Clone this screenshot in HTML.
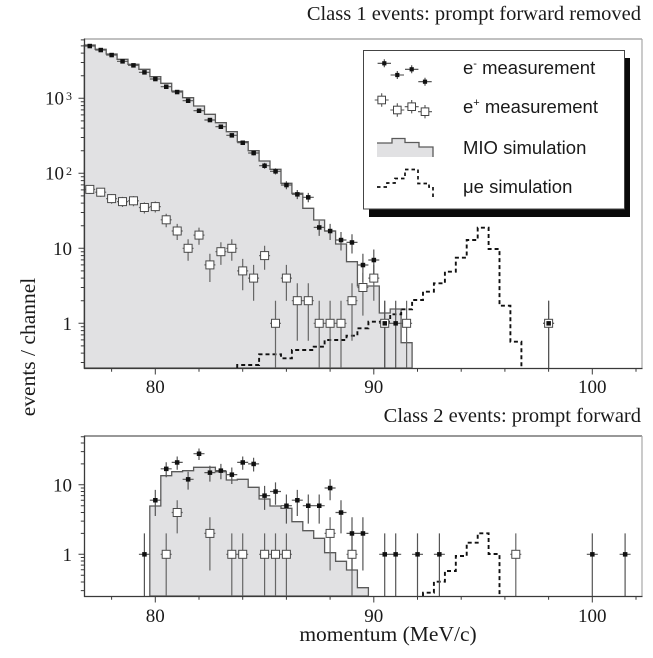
<!DOCTYPE html>
<html>
<head>
<meta charset="utf-8">
<style>
html,body{margin:0;padding:0;background:#fff;}
svg{display:block;}
.serif{font-family:"Liberation Serif","Times New Roman",serif;fill:#1a1a1a;}
.sans{font-family:"Liberation Sans",Arial,sans-serif;fill:#1a1a1a;}
</style>
</head>
<body>
<svg width="653" height="658" viewBox="0 0 653 658" xmlns="http://www.w3.org/2000/svg">
<rect x="0" y="0" width="653" height="658" fill="#fff"/>

<!-- ================= TOP PLOT ================= -->
<path d="M84.3,368 V45 H95.2 V49.3 H106.2 V54 H117.1 V59.3 H128 V64.3 H138.9 V69.3 H149.9 V76.7 H160.8 V83.3 H171.7 V91 H182.6 V97.7 H193.6 V106 H204.5 V114.3 H215.4 V122.7 H226.3 V131.7 H237.3 V141.7 H248.2 V150.7 H259.1 V161 H270 V169.3 H281 V183.3 H291.9 V193.3 H302.8 V208.3 H313.7 V220 H324.6 V231 H335.6 V244 H346.5 V261.7 H357.4 V286 H379.3 V313 H390.2 V309 H401.1 V342.7 H412.1 V368 Z" fill="#e1e1e3" stroke="#5a5a5a" stroke-width="1.3"/>
<path d="M237.2,368 V365 H259.1 V354.3 H281 V358.3 H291.9 V350 H313.7 V346.7 H324.6 V340 H346.5 V335.7 H357.4 V328.3 H368.4 V321.7 H390.2 V314.3 H401.2 V309.3 H412.1 V300 H423 V291.7 H433.9 V283.3 H444.9 V271.7 H455.8 V257.7 H466.7 V240 H477.7 V227.7 H488.6 V249 H499.5 V305.7 H510.4 V341.7 H521.4 V368" fill="none" stroke="#111" stroke-width="1.9" stroke-dasharray="4 3"/>

<path stroke="#666" stroke-width="1.2" fill="none" d="
M89.8,185.5V193.9M84.3,189.4H95.2
M100.7,188.1V196.9M95.2,192.2H106.2
M111.6,194.1V203.8M106.1,198.6H117.1
M122.5,196.9V207M117,201.6H128
M133.5,196.1V206.2M128,200.8H139
M144.4,202.4V213.5M138.9,207.5H149.9
M155.3,201.5V212.5M149.8,206.6H160.8
M166.2,213.8V227.2M160.7,219.8H171.7
M177.2,223.9V240M171.7,231H182.7
M188.1,239.3V260.7M182.6,248.3H193.6
M199,227.6V244.8M193.5,235.1H204.5
M209.9,253.7V282M204.4,264.9H215.4
M220.9,242.3V264.9M215.4,251.7H226.4
M231.8,239.3V260.7M226.3,248.3H237.3
M242.7,258.9V290.2M237.2,270.9H248.2
M253.6,264.9V300.7M248.1,278.1H259.1
M264.6,245.7V269.8M259.1,255.6H270.1
M275.5,300.7V368M270,323.3H281
M286.4,264.9V300.7M280.9,278.1H291.9
M297.3,283.3V340.7M291.8,300.7H302.8
M308.3,283.3V340.7M302.8,300.7H313.8
M319.2,300.7V368M313.7,323.3H324.7
M330.1,300.7V368M324.6,323.3H335.6
M341,300.7V368M335.5,323.3H346.5
M352,283.3V340.7M346.5,300.7H357.5
M362.9,272.7V315.6M357.4,287.5H368.4
M373.8,264.9V300.7M368.3,278.1H379.3
M384.7,300.7V368M379.2,323.3H390.2
M406.6,300.7V368M401.1,323.3H412.1
M548.6,300.7V368M543.1,323.3H554.1"/>
<path stroke="#555" stroke-width="1.2" fill="none" d="
M89.8,45.5V46.5M84.3,46H95.2
M100.7,49.5V50.5M95.2,50H106.2
M111.6,54.5V55.5M106.1,55H117.1
M122.5,60.7V61.9M117,61.3H128
M133.5,64.7V65.9M128,65.3H139
M144.4,71.6V73M138.9,72.3H149.9
M155.3,78.2V79.8M149.8,79H160.8
M166.2,85.8V87.6M160.7,86.7H171.7
M177.2,91.1V92.9M171.7,92H182.7
M188.1,99.6V101.8M182.6,100.7H193.6
M199,109.5V112M193.5,110.7H204.5
M209.9,118.6V121.5M204.4,120H215.4
M220.9,125.1V128.3M215.4,126.7H226.4
M231.8,133.5V137.1M226.3,135.3H237.3
M242.7,140.7V144.7M237.2,142.7H248.2
M253.6,150.6V155.4M248.1,153H259.1
M264.6,162.9V168.7M259.1,165.7H270.1
M275.5,168.2V174.5M270,171.3H281
M286.4,181.3V189.2M280.9,185H291.9
M297.3,190V199.1M291.8,194.3H302.8
M308.3,192.9V202.3M302.8,197.3H313.8
M319.2,220.7V235.9M313.7,227.4H324.7
M330.1,223.9V240M324.6,231H335.6
M341,232V250.5M335.5,240H346.5
M352,234.2V253.5M346.5,242.4H357.5
M362.9,253.8V282.1M357.4,265H368.4
M373.8,249.5V275.4M368.3,260H379.3
M384.7,300.7V368M379.2,323.3H390.2
M395.7,300.7V368M390.2,323.3H401.2
M548.6,300.7V368M543.1,323.3H554.1"/>

<g fill="#fff" stroke="#4a4a4a" stroke-width="1">
<rect x="85.8" y="185.4" width="8" height="8"/>
<rect x="96.7" y="188.2" width="8" height="8"/>
<rect x="107.6" y="194.6" width="8" height="8"/>
<rect x="118.5" y="197.6" width="8" height="8"/>
<rect x="129.5" y="196.8" width="8" height="8"/>
<rect x="140.4" y="203.5" width="8" height="8"/>
<rect x="151.3" y="202.6" width="8" height="8"/>
<rect x="162.2" y="215.8" width="8" height="8"/>
<rect x="173.2" y="227" width="8" height="8"/>
<rect x="184.1" y="244.3" width="8" height="8"/>
<rect x="195" y="231.1" width="8" height="8"/>
<rect x="205.9" y="260.9" width="8" height="8"/>
<rect x="216.9" y="247.7" width="8" height="8"/>
<rect x="227.8" y="244.3" width="8" height="8"/>
<rect x="238.7" y="266.9" width="8" height="8"/>
<rect x="249.6" y="274.1" width="8" height="8"/>
<rect x="260.6" y="251.6" width="8" height="8"/>
<rect x="271.5" y="319.3" width="8" height="8"/>
<rect x="282.4" y="274.1" width="8" height="8"/>
<rect x="293.3" y="296.7" width="8" height="8"/>
<rect x="304.3" y="296.7" width="8" height="8"/>
<rect x="315.2" y="319.3" width="8" height="8"/>
<rect x="326.1" y="319.3" width="8" height="8"/>
<rect x="337" y="319.3" width="8" height="8"/>
<rect x="348" y="296.7" width="8" height="8"/>
<rect x="358.9" y="283.5" width="8" height="8"/>
<rect x="369.8" y="274.1" width="8" height="8"/>
<rect x="380.7" y="319.3" width="8" height="8"/>
<rect x="402.6" y="319.3" width="8" height="8"/>
<rect x="544.6" y="319.3" width="8" height="8"/>
</g>
<g fill="#111">
<rect x="87.5" y="43.8" width="4.5" height="4.5"/>
<rect x="98.5" y="47.8" width="4.5" height="4.5"/>
<rect x="109.4" y="52.8" width="4.5" height="4.5"/>
<rect x="120.3" y="59.1" width="4.5" height="4.5"/>
<rect x="131.2" y="63.1" width="4.5" height="4.5"/>
<rect x="142.2" y="70.1" width="4.5" height="4.5"/>
<rect x="153.1" y="76.8" width="4.5" height="4.5"/>
<rect x="164" y="84.5" width="4.5" height="4.5"/>
<rect x="174.9" y="89.8" width="4.5" height="4.5"/>
<rect x="185.9" y="98.5" width="4.5" height="4.5"/>
<rect x="196.8" y="108.5" width="4.5" height="4.5"/>
<rect x="207.7" y="117.8" width="4.5" height="4.5"/>
<rect x="218.6" y="124.5" width="4.5" height="4.5"/>
<rect x="229.6" y="133.1" width="4.5" height="4.5"/>
<rect x="240.5" y="140.5" width="4.5" height="4.5"/>
<rect x="251.4" y="150.8" width="4.5" height="4.5"/>
<rect x="262.3" y="163.5" width="4.5" height="4.5"/>
<rect x="273.3" y="169.1" width="4.5" height="4.5"/>
<rect x="284.2" y="182.8" width="4.5" height="4.5"/>
<rect x="295.1" y="192.1" width="4.5" height="4.5"/>
<rect x="306" y="195.1" width="4.5" height="4.5"/>
<rect x="317" y="225.2" width="4.5" height="4.5"/>
<rect x="327.9" y="228.8" width="4.5" height="4.5"/>
<rect x="338.8" y="237.8" width="4.5" height="4.5"/>
<rect x="349.7" y="240.2" width="4.5" height="4.5"/>
<rect x="360.7" y="262.8" width="4.5" height="4.5"/>
<rect x="371.6" y="257.8" width="4.5" height="4.5"/>
<rect x="382.5" y="321.1" width="4.5" height="4.5"/>
<rect x="393.4" y="321.1" width="4.5" height="4.5"/>
<rect x="546.4" y="321.1" width="4.5" height="4.5"/>
</g>

<line x1="84.5" y1="39" x2="642" y2="39" stroke="#9a9a9a" stroke-width="1.2"/>
<line x1="642" y1="39" x2="642" y2="368.5" stroke="#a8a8a8" stroke-width="1.2"/>
<line x1="84.5" y1="38.5" x2="84.5" y2="369" stroke="#3a3a3a" stroke-width="1.3"/>
<line x1="84" y1="368.5" x2="642.5" y2="368.5" stroke="#3a3a3a" stroke-width="1.3"/>
<path stroke="#3a3a3a" stroke-width="1" fill="none" d="
M78.5,323.3H84.5M78.5,248.3H84.5M78.5,173.3H84.5M78.5,98.3H84.5
M80.8,362.5H84.5M80.8,353.1H84.5M80.8,345.9H84.5M80.8,339.9H84.5M80.8,334.9H84.5M80.8,330.6H84.5M80.8,326.7H84.5
M80.8,300.7H84.5M80.8,287.5H84.5M80.8,278.1H84.5M80.8,270.9H84.5M80.8,264.9H84.5M80.8,259.9H84.5M80.8,255.6H84.5M80.8,251.7H84.5
M80.8,225.7H84.5M80.8,212.5H84.5M80.8,203.1H84.5M80.8,195.9H84.5M80.8,189.9H84.5M80.8,184.9H84.5M80.8,180.6H84.5M80.8,176.7H84.5
M80.8,150.7H84.5M80.8,137.5H84.5M80.8,128.1H84.5M80.8,120.9H84.5M80.8,114.9H84.5M80.8,109.9H84.5M80.8,105.6H84.5M80.8,101.7H84.5
M80.8,75.7H84.5M80.8,62.5H84.5M80.8,53.1H84.5M80.8,45.9H84.5M80.8,39.9H84.5"/>
<path stroke="#3a3a3a" stroke-width="1" fill="none" d="
M111.6,368.5V371.8M155.3,368.5V374.5M199,368.5V371.8M242.7,368.5V371.8M286.4,368.5V371.8M330.1,368.5V371.8
M373.8,368.5V374.5M417.5,368.5V371.8M461.2,368.5V371.8M504.9,368.5V371.8M548.6,368.5V371.8M592.3,368.5V374.5M636,368.5V371.8"/>
<g class="serif" font-size="19">
<text x="45" y="104.6">10</text><text x="66" y="100" font-size="12">3</text>
<text x="45" y="179.6">10</text><text x="66" y="175" font-size="12">2</text>
<text x="72" y="254.8" text-anchor="end">10</text>
<text x="72" y="329.8" text-anchor="end">1</text>
<text x="155.3" y="393" text-anchor="middle">80</text>
<text x="373.8" y="393" text-anchor="middle">90</text>
<text x="592.3" y="393" text-anchor="middle">100</text>
</g>

<!-- Legend -->
<rect x="369" y="58" width="261" height="159" fill="#0a0a0a"/>
<rect x="363.5" y="50.5" width="261" height="158.5" fill="#fff" stroke="#444" stroke-width="1"/>
<path stroke="#444" stroke-width="1.1" fill="none" d="
M377.6,63.3H391M384.3,59.3V67.3
M390.6,75H404M397.3,71V79
M405,69.3H418.4M411.7,65.3V73.3
M418.3,81.7H431.7M425,77.7V85.7"/>
<g fill="#111">
<rect x="382.2" y="61.2" width="4.2" height="4.2"/>
<rect x="395.2" y="72.9" width="4.2" height="4.2"/>
<rect x="409.6" y="67.2" width="4.2" height="4.2"/>
<rect x="422.9" y="79.6" width="4.2" height="4.2"/>
</g>
<path stroke="#555" stroke-width="1.1" fill="none" d="
M374.7,100H388.7M381.7,93.3V106.7
M390.3,110H404.3M397.3,103.3V116.7
M404.7,106.7H418.7M411.7,100V113.4
M418,111.7H432M425,105V118.4"/>
<g fill="#fff" stroke="#444" stroke-width="1">
<rect x="377.9" y="96.2" width="7.6" height="7.6"/>
<rect x="393.5" y="106.2" width="7.6" height="7.6"/>
<rect x="407.9" y="102.9" width="7.6" height="7.6"/>
<rect x="421.2" y="107.9" width="7.6" height="7.6"/>
</g>
<path d="M377,157 V143 H392 V138.5 H405 V142.5 H419 V147 H433 V157 Z" fill="#e1e1e3"/>
<path d="M377,143 H392 V138.5 H405 V142.5 H419 V147 H433 V157" fill="none" stroke="#5a5a5a" stroke-width="1.3"/>
<path d="M377,187 H387 V183 H395 V178.5 H405 V169.5 H418 V183.5 H429 V187 H433 V197" fill="none" stroke="#111" stroke-width="1.7" stroke-dasharray="3.5 3"/>
<g class="sans" font-size="18.5">
<text x="463" y="74">e<tspan font-size="11" dy="-7">-</tspan><tspan dy="7"> measurement</tspan></text>
<text x="463" y="113">e<tspan font-size="11" dy="-7">+</tspan><tspan dy="7"> measurement</tspan></text>
<text x="463" y="154">MIO simulation</text>
<text x="463" y="193">μe simulation</text>
</g>

<!-- ================= BOTTOM PLOT ================= -->
<path d="M149.8,596 V506 H160.8 V475.7 H171.7 V471.7 H182.6 V470.7 H193.6 V467.3 H215.4 V471.7 H226.3 V480 H237.3 V479.3 H248.2 V487.3 H259.1 V499 H270 V506 H281 V508.3 H291.9 V521.7 H302.8 V530.7 H313.7 V538.3 H324.6 V552.7 H335.6 V561.3 H346.5 V570 H357.4 V587.7 H368.4 V596 Z" fill="#e1e1e3" stroke="#5a5a5a" stroke-width="1.3"/>
<path d="M423,596 V592.7 H433.9 V581.7 H444.9 V571 H455.8 V556 H466.7 V542.7 H477.7 V533.3 H488.6 V554 H499.5 V596" fill="none" stroke="#111" stroke-width="1.9" stroke-dasharray="4 3"/>

<path stroke="#666" stroke-width="1.2" fill="none" d="
M166.2,533.4V596M160.7,554.3H171.7
M177.2,500.3V533.4M171.7,512.5H182.7
M209.9,517.3V570.5M204.4,533.4H215.4
M231.8,533.4V596M226.3,554.3H237.3
M242.7,533.4V596M237.2,554.3H248.2
M264.6,533.4V596M259.1,554.3H270.1
M275.5,533.4V596M270,554.3H281
M286.4,533.4V596M280.9,554.3H291.9
M330.1,517.3V570.5M324.6,533.4H335.6
M352,533.4V596M346.5,554.3H357.5
M515.8,533.4V596M510.3,554.3H521.3"/>
<path stroke="#555" stroke-width="1.2" fill="none" d="
M144.4,533.4V596M138.9,554.3H149.9
M155.3,489.9V516M149.8,500.2H160.8
M166.2,462.3V477.2M160.7,468.8H171.7
M177.2,456.5V469.8M171.7,462.4H182.7
M188.1,471.7V489.6M182.6,479.3H193.6
M199,448.5V460M193.5,453.7H204.5
M209.9,465.7V481.6M204.4,472.6H215.4
M220.9,463.9V479.3M215.4,470.6H226.4
M231.8,467.5V484M226.3,474.6H237.3
M242.7,456.5V469.8M237.2,462.4H248.2
M253.6,457.8V471.5M248.1,463.9H259.1
M264.6,485.9V509.9M259.1,495.6H270.1
M275.5,482.4V504.7M270,491.5H281
M286.4,494.5V523.6M280.9,505.7H291.9
M297.3,489.9V516M291.8,500.2H302.8
M308.3,494.5V523.6M302.8,505.7H313.8
M319.2,494.5V523.6M313.7,505.7H324.7
M330.1,479.3V500.2M324.6,488H335.6
M341,500.3V533.4M335.5,512.5H346.5
M352,517.3V570.5M346.5,533.4H357.5
M362.9,517.3V570.5M357.4,533.4H368.4
M384.7,533.4V596M379.2,554.3H390.2
M395.7,533.4V596M390.2,554.3H401.2
M417.5,533.4V596M412,554.3H423
M439.4,533.4V596M433.9,554.3H444.9
M592.3,533.4V596M586.8,554.3H597.8
M625.1,533.4V596M619.6,554.3H630.6"/>
<g fill="#fff" stroke="#4a4a4a" stroke-width="1">
<rect x="162.2" y="550.3" width="8" height="8"/>
<rect x="173.2" y="508.5" width="8" height="8"/>
<rect x="205.9" y="529.4" width="8" height="8"/>
<rect x="227.8" y="550.3" width="8" height="8"/>
<rect x="238.7" y="550.3" width="8" height="8"/>
<rect x="260.6" y="550.3" width="8" height="8"/>
<rect x="271.5" y="550.3" width="8" height="8"/>
<rect x="282.4" y="550.3" width="8" height="8"/>
<rect x="326.1" y="529.4" width="8" height="8"/>
<rect x="348" y="550.3" width="8" height="8"/>
<rect x="511.8" y="550.3" width="8" height="8"/>
</g>
<g fill="#111">
<rect x="142.2" y="552.1" width="4.5" height="4.5"/>
<rect x="153.1" y="498" width="4.5" height="4.5"/>
<rect x="164" y="466.6" width="4.5" height="4.5"/>
<rect x="174.9" y="460.2" width="4.5" height="4.5"/>
<rect x="185.9" y="477.1" width="4.5" height="4.5"/>
<rect x="196.8" y="451.5" width="4.5" height="4.5"/>
<rect x="207.7" y="470.4" width="4.5" height="4.5"/>
<rect x="218.6" y="468.4" width="4.5" height="4.5"/>
<rect x="229.6" y="472.4" width="4.5" height="4.5"/>
<rect x="240.5" y="460.2" width="4.5" height="4.5"/>
<rect x="251.4" y="461.7" width="4.5" height="4.5"/>
<rect x="262.3" y="493.4" width="4.5" height="4.5"/>
<rect x="273.3" y="489.3" width="4.5" height="4.5"/>
<rect x="284.2" y="503.5" width="4.5" height="4.5"/>
<rect x="295.1" y="498" width="4.5" height="4.5"/>
<rect x="306" y="503.5" width="4.5" height="4.5"/>
<rect x="317" y="503.5" width="4.5" height="4.5"/>
<rect x="327.9" y="485.8" width="4.5" height="4.5"/>
<rect x="338.8" y="510.3" width="4.5" height="4.5"/>
<rect x="349.7" y="531.2" width="4.5" height="4.5"/>
<rect x="360.7" y="531.2" width="4.5" height="4.5"/>
<rect x="382.5" y="552.1" width="4.5" height="4.5"/>
<rect x="393.4" y="552.1" width="4.5" height="4.5"/>
<rect x="415.3" y="552.1" width="4.5" height="4.5"/>
<rect x="437.1" y="552.1" width="4.5" height="4.5"/>
<rect x="590.1" y="552.1" width="4.5" height="4.5"/>
<rect x="622.9" y="552.1" width="4.5" height="4.5"/>
</g>

<line x1="84.5" y1="436" x2="642" y2="436" stroke="#5a5a5a" stroke-width="1.2"/>
<line x1="642" y1="436" x2="642" y2="596.5" stroke="#a8a8a8" stroke-width="1.2"/>
<line x1="84.5" y1="435.5" x2="84.5" y2="597" stroke="#3a3a3a" stroke-width="1.3"/>
<line x1="84" y1="596.5" x2="642.5" y2="596.5" stroke="#3a3a3a" stroke-width="1.3"/>
<path stroke="#3a3a3a" stroke-width="1" fill="none" d="
M78.5,554.3H84.5M78.5,484.8H84.5
M80.8,590.6H84.5M80.8,582H84.5M80.8,575.2H84.5M80.8,569.7H84.5M80.8,565.1H84.5M80.8,561H84.5M80.8,557.5H84.5
M80.8,533.4H84.5M80.8,521.1H84.5M80.8,512.5H84.5M80.8,505.7H84.5M80.8,500.2H84.5M80.8,495.6H84.5M80.8,491.5H84.5M80.8,488H84.5
M80.8,463.9H84.5M80.8,451.6H84.5M80.8,443H84.5M80.8,436.7H84.5"/>
<path stroke="#3a3a3a" stroke-width="1" fill="none" d="
M111.6,596.5V599.8M155.3,596.5V602.5M199,596.5V599.8M242.7,596.5V599.8M286.4,596.5V599.8M330.1,596.5V599.8
M373.8,596.5V602.5M417.5,596.5V599.8M461.2,596.5V599.8M504.9,596.5V599.8M548.6,596.5V599.8M592.3,596.5V602.5M636,596.5V599.8"/>
<g class="serif" font-size="19">
<text x="72" y="491.3" text-anchor="end">10</text>
<text x="72" y="560.8" text-anchor="end">1</text>
<text x="155.3" y="622" text-anchor="middle">80</text>
<text x="373.8" y="622" text-anchor="middle">90</text>
<text x="592.3" y="622" text-anchor="middle">100</text>
</g>

<g class="serif">
<text x="641" y="20" text-anchor="end" font-size="20.5">Class 1 events: prompt forward removed</text>
<text x="641" y="422" text-anchor="end" font-size="20.5">Class 2 events: prompt forward</text>
<text x="388" y="641" text-anchor="middle" font-size="21.5">momentum (MeV/c)</text>
<text transform="translate(35,347) rotate(-90)" text-anchor="middle" font-size="21.5">events / channel</text>
</g>
</svg>
</body>
</html>
